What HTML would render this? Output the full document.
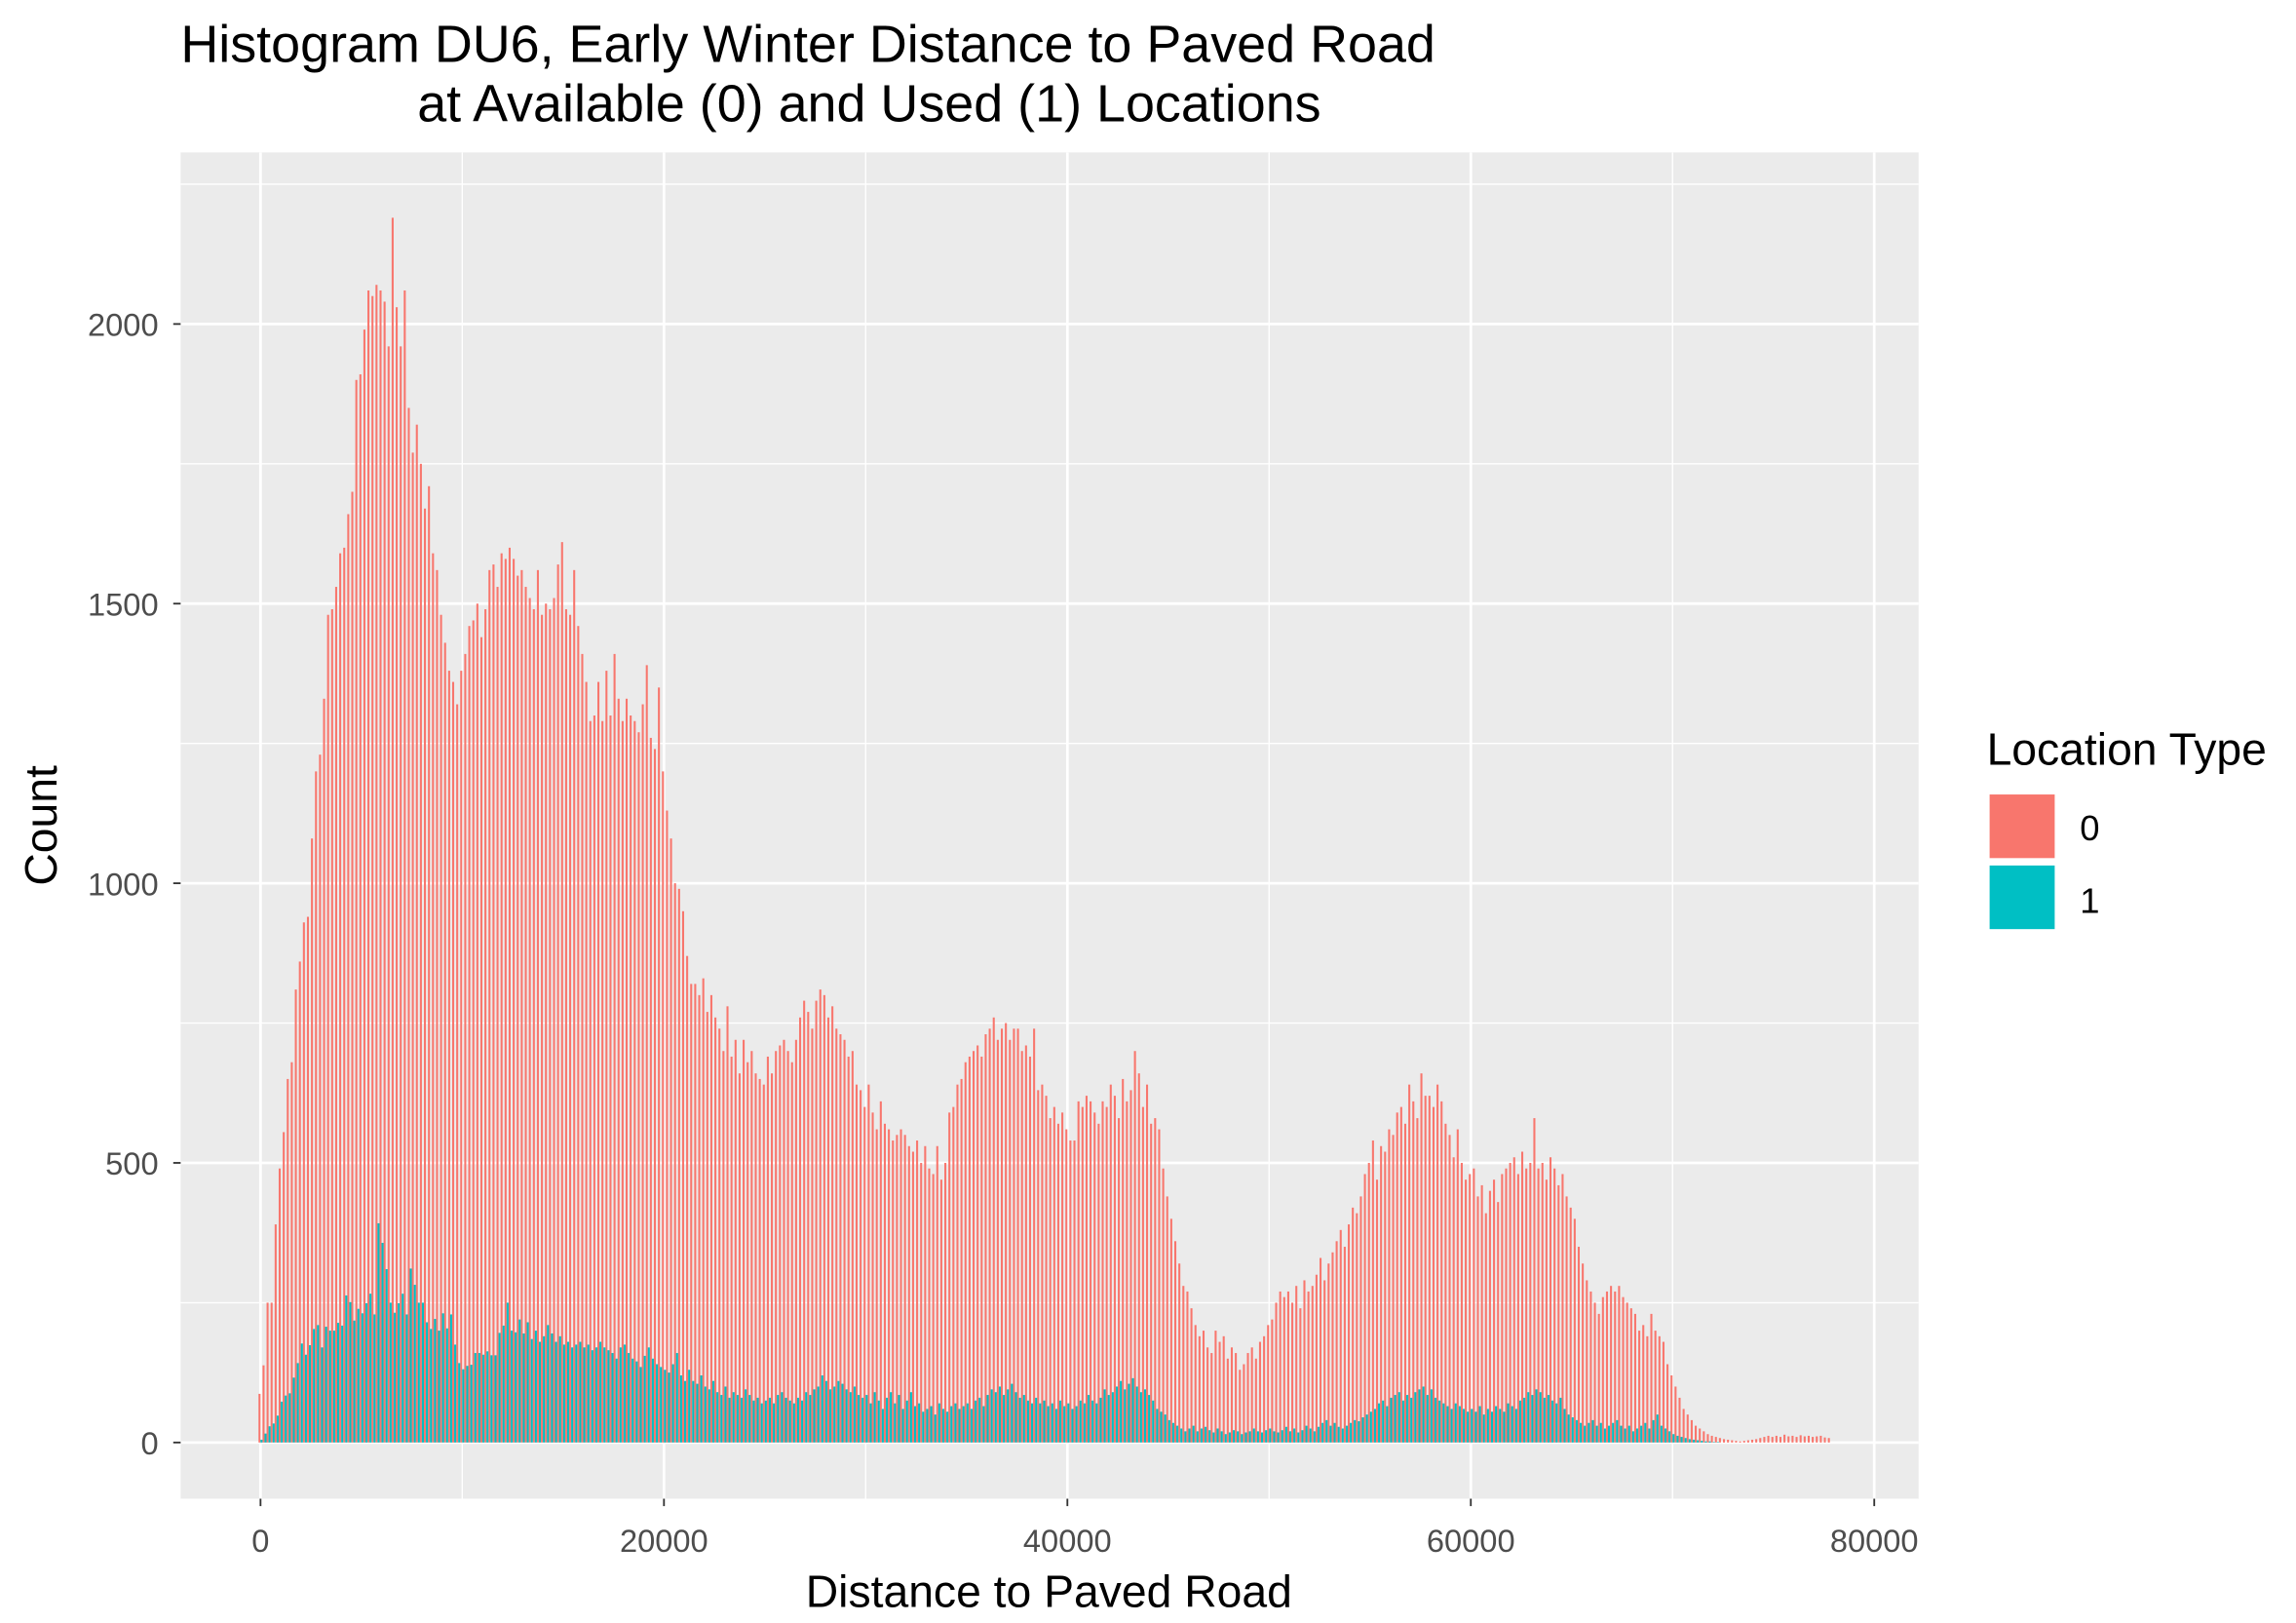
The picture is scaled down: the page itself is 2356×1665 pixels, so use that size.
<!DOCTYPE html>
<html><head><meta charset="utf-8">
<style>
html,body{margin:0;padding:0;background:#fff;}
svg{display:block;font-family:"Liberation Sans",Arial,sans-serif;}
</style></head>
<body>
<svg id="chart" width="2356" height="1665" viewBox="0 0 1552 1097" xmlns="http://www.w3.org/2000/svg">
<rect x="0" y="0" width="1552" height="1097" fill="#ffffff"/>
<text x="122" y="42" font-size="35.5" fill="#000">Histogram DU6, Early Winter Distance to Paved Road</text>
<text x="282" y="82" font-size="35.5" fill="#000">at Available (0) and Used (1) Locations</text>
<rect x="122" y="103" width="1175" height="910" fill="#ebebeb"/>
<g id="grid"></g>
<g id="bars"></g>
<g id="axes"></g>
<text x="709" y="1086" font-size="30.5" text-anchor="middle" fill="#000">Distance to Paved Road</text>
<text transform="translate(38,558) rotate(-90)" font-size="30.5" text-anchor="middle" fill="#000">Count</text>
<g>
<text x="1343" y="517" font-size="30.5" fill="#000">Location Type</text>
<rect x="1345" y="537" width="44" height="43" fill="#f8766d"/>
<text x="1406" y="568" font-size="24" fill="#000">0</text>
<rect x="1345" y="585" width="44" height="43" fill="#00bfc4"/>
<text x="1406" y="617" font-size="24" fill="#000">1</text>
</g>
</svg>
<script>
const binWidth = 200;
const xTicks = [0, 20000, 40000, 60000, 80000];
const xMinor = [10000, 30000, 50000, 70000];
const yTicks = [0, 500, 1000, 1500, 2000];
const yMinor = [250, 750, 1250, 1750, 2250];
const available = [
87,138,250,250,390, 490,555,650,680,810, 860,930,940,1080,1200, 1230,1330,1480,1490,1530,
1590,1600,1660,1700,1900, 1910,1990,2060,2050,2070, 2060,2040,1960,2190,2030, 1960,2060,1850,1770,1820,
1750,1670,1710,1590,1560, 1480,1430,1380,1360,1320, 1380,1410,1460,1470,1500, 1440,1490,1560,1570,1530,
1590,1580,1600,1580,1550, 1560,1530,1510,1490,1560, 1480,1500,1490,1510,1570, 1610,1490,1480,1560,1460,
1410,1360,1290,1300,1360, 1290,1380,1300,1410,1330, 1290,1330,1300,1290,1270, 1320,1390,1260,1240,1350,
1200,1130,1080,1000,990, 950,870,820,820,800, 830,770,800,760,740, 700,780,690,720,660,
720,680,700,660,650, 640,690,660,700,710, 720,700,680,720,760, 790,770,740,790,810,
800,760,780,740,730, 720,690,700,640,630, 600,640,590,560,610, 570,560,540,550,560,
550,530,520,540,500, 530,490,480,530,470, 500,590,600,640,650, 680,690,700,710,690,
730,740,760,720,740, 750,720,740,740,700, 710,690,740,630,640, 620,580,600,570,590,
560,540,540,610,600, 620,610,590,570,610, 600,640,620,580,650, 610,630,700,660,600,
640,570,580,560,490, 440,400,360,320,280, 270,240,210,190,200, 170,160,200,180,190,
150,170,160,130,140, 160,170,150,180,190, 210,220,250,270,260, 270,250,280,240,290,
270,280,300,330,290, 320,340,360,380,350, 390,420,410,440,480, 500,540,470,530,520,
560,550,590,600,570, 640,610,580,660,620, 620,600,640,610,570, 550,510,560,500,470,
480,490,440,460,410, 450,470,430,480,490, 500,510,480,520,490, 500,580,490,500,470,
510,490,460,480,440, 420,400,350,320,290, 270,250,230,260,270, 280,270,280,260,250,
240,230,200,210,190, 230,200,190,180,140, 120,100,80,60,50, 40,30,25,20,15,
12,10,8,6,5, 4,3,2,3,4, 5,6,8,10,12, 10,12,10,14,11,
12,10,13,11,12, 10,11,12,9,8
];
const used = [
5,16,29,34,48,73,84,88,116,142, 177,157,174,203,210,170,207,200,200,214,
209,263,251,218,239,231,249,266,229,392, 357,310,250,232,249,266,229,311,282,250,
250,215,203,221,200,231,204,229,175,142, 131,137,139,160,160,157,163,156,156,196,
209,250,200,197,
220,195,215,185,200,180,190,210,195,180,190,175,180,170,175,180,170,175,165,170,180,170,165,160,150,170,175,160,150,145,135,155,170,150,140,135,
130,125,140,160,120,110,130,110,105,120,100,95,110,90,85,100,80,90,85,80,95,85,75,80,70,
75,80,70,85,90,80,75,70,80,75,90,85,95,100,120,110,95,100,110,105,95,90,100,85,80,
85,70,90,75,60,80,90,70,85,60,75,90,65,70,55,60,65,50,70,60,55,65,70,60,65,
70,60,75,80,65,85,95,90,100,85,95,105,90,80,85,75,70,80,70,75,65,70,60,75,65,
70,60,65,75,70,85,75,70,80,95,85,90,100,110,95,105,115,100,90,95,85,75,60,55,50,
40,35,30,25,20,25,30,20,25,28,22,18,25,20,15,18,22,20,15,18,20,25,20,18,22,
25,20,18,22,28,20,25,18,22,30,25,20,28,35,40,30,35,28,25,30,35,40,38,45,50,
55,60,70,75,65,80,85,90,75,85,80,90,95,100,85,95,80,75,70,65,60,70,65,60,55,
60,55,65,50,60,55,65,60,55,70,65,60,75,80,90,85,95,90,80,85,75,70,80,60,50,
45,40,35,30,35,40,30,35,25,30,35,40,30,25,30,20,25,30,35,25,40,50,30,25,20,
15,12,10,8,6,5,4,3,2,2,1,1,0,0,0,0,0,0,0,0,0,0,0,0,0,0,0,0,0,0,0,0,0,0,0,0,0,0,0,0
];

const NS = "http://www.w3.org/2000/svg";
const PX0 = 176, PXS = 1091 / 80000, PY0 = 975, PYS = 756 / 2000;
const PL = 122, PR = 1297, PT = 103, PB = 1013;
function xs(v){ return PX0 + v * PXS; }
function ys(v){ return PY0 - v * PYS; }
function mk(tag, attrs, parent){
  const e = document.createElementNS(NS, tag);
  for (const k in attrs) e.setAttribute(k, attrs[k]);
  parent.appendChild(e);
  return e;
}
const grid = document.getElementById('grid');
const bars = document.getElementById('bars');
const axes = document.getElementById('axes');

xMinor.forEach(v => {
  const l = mk('line', {x1: xs(v), x2: xs(v), y1: PT, y2: PB, stroke: '#fff', 'stroke-width': 0.9}, grid);
  
  
});
yMinor.forEach(v => {
  const l = mk('line', {x1: PL, x2: PR, y1: ys(v), y2: ys(v), stroke: '#fff', 'stroke-width': 0.9}, grid);
  
  
});
xTicks.forEach(v => {
  const l = mk('line', {x1: xs(v), x2: xs(v), y1: PT, y2: PB, stroke: '#fff', 'stroke-width': 1.8}, grid);
  
  
  const t = mk('line', {x1: xs(v), x2: xs(v), y1: PB, y2: PB + 5, stroke: '#333', 'stroke-width': 1.2}, axes);
  
  
  const tx = mk('text', {x: xs(v), y: PB + 36, 'font-size': 21.5, fill: '#4d4d4d', 'text-anchor': 'middle'}, axes);
  tx.textContent = String(v);
  
  
});
yTicks.forEach(v => {
  const l = mk('line', {x1: PL, x2: PR, y1: ys(v), y2: ys(v), stroke: '#fff', 'stroke-width': 1.8}, grid);
  
  
  const t = mk('line', {x1: PL - 5, x2: PL, y1: ys(v), y2: ys(v), stroke: '#333', 'stroke-width': 1.2}, axes);
  
  
  const tx = mk('text', {x: PL - 15, y: ys(v) + 8, 'font-size': 21.5, fill: '#4d4d4d', 'text-anchor': 'end'}, axes);
  tx.textContent = String(v);
  
  
});

available.forEach((c, i) => {
  const center = i * binWidth;
  const x0 = xs(center - binWidth / 2), xm = xs(center);
  if (c > 0) {
    const r = mk('rect', {x: x0, y: ys(c), width: xm - x0, height: ys(0) - ys(c), fill: '#f8766d'}, bars);
    
    
  }
});
used.forEach((c, i) => {
  const center = i * binWidth;
  const xm = xs(center), x1 = xs(center + binWidth / 2);
  if (c > 0) {
    const r = mk('rect', {x: xm, y: ys(c), width: x1 - xm, height: ys(0) - ys(c), fill: '#00bfc4'}, bars);
    
    
  }
});
</script>
</body></html>
